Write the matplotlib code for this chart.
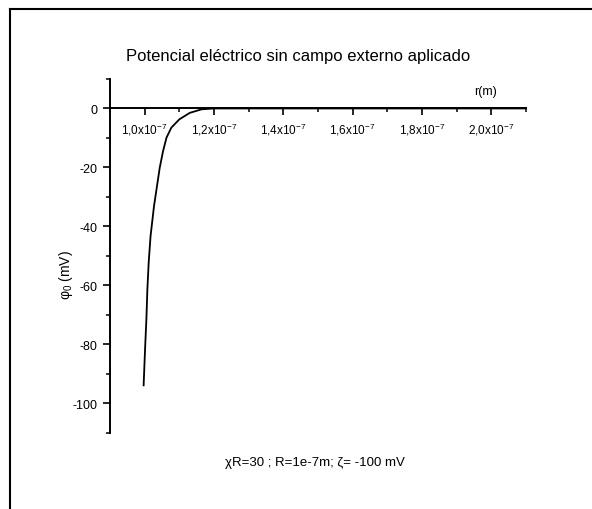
import matplotlib
matplotlib.use("Agg")
import matplotlib.pyplot as plt
from matplotlib.ticker import MultipleLocator, FixedLocator
from matplotlib.lines import Line2D

plt.rcParams["font.family"] = ["Liberation Sans", "DejaVu Sans"]
plt.rcParams["mathtext.fontset"] = "custom"
plt.rcParams["mathtext.rm"] = "Liberation Sans"
plt.rcParams["mathtext.it"] = "Liberation Sans:italic"
plt.rcParams["axes.unicode_minus"] = False

# curve: r in m, phi0 in mV
r_vals = [0.997e-7, 1.000e-7, 1.002e-7, 1.005e-7, 1.0078e-7, 1.0116e-7, 1.017e-7,
          1.027e-7, 1.036e-7, 1.0435e-7, 1.053e-7, 1.063e-7, 1.077e-7, 1.10e-7,
          1.13e-7, 1.164e-7, 1.20e-7, 1.40e-7, 1.80e-7, 2.10e-7]
phi_vals = [-94, -85, -79.4, -71.5, -61.4, -52.3, -43.3,
            -33.1, -26, -20.1, -14.5, -9.9, -6.5, -3.7,
            -1.5, -0.3, 0, 0, 0, 0]

x_ticks = [1.0e-7, 1.2e-7, 1.4e-7, 1.6e-7, 1.8e-7, 2.0e-7]
x_labels = ["1,0x10$^{\\mathrm{-7}}$", "1,2x10$^{\\mathrm{-7}}$", "1,4x10$^{\\mathrm{-7}}$",
            "1,6x10$^{\\mathrm{-7}}$", "1,8x10$^{\\mathrm{-7}}$", "2,0x10$^{\\mathrm{-7}}$"]
y_ticks = [0, -20, -40, -60, -80, -100]

fig = plt.figure(figsize=(5.92, 5.10), dpi=100)
ax = fig.add_axes([110 / 592, (510 - 433.5) / 510, 416 / 592, 353.5 / 510])

ax.plot(r_vals, phi_vals, color="black", lw=1.3)

ax.set_xlim(0.9e-7, 2.1e-7)
ax.set_ylim(-110, 10)

for s in ["top", "right"]:
    ax.spines[s].set_visible(False)
ax.spines["bottom"].set_position(("data", 0))
ax.spines["left"].set_linewidth(1.4)
ax.spines["bottom"].set_linewidth(1.4)

ax.xaxis.set_major_locator(FixedLocator(x_ticks))
ax.set_xticklabels(x_labels, fontsize=8.5)
ax.xaxis.set_minor_locator(MultipleLocator(0.1e-7))
ax.yaxis.set_major_locator(FixedLocator(y_ticks))
ax.set_yticklabels([str(v) for v in y_ticks], fontsize=9)
ax.yaxis.set_minor_locator(MultipleLocator(10))
ax.tick_params(which="major", direction="out", length=5, width=1.2, pad=4)
ax.tick_params(which="minor", direction="out", length=3, width=1.1)

ax.set_ylabel("φ$_{\\mathrm{0}}$ (mV)", fontsize=10)
ax.yaxis.set_label_coords(-0.084, 0.448)
ax.text(1.95e-7, 4, "r(m)", fontsize=9, ha="left", va="bottom")

fig.text(298 / 592, 1 - 57 / 510, "Potencial eléctrico sin campo externo aplicado",
         fontsize=12, ha="center", va="center")
fig.text(315 / 592, 1 - 463 / 510, "χR=30 ; R=1e-7m; ζ= -100 mV",
         fontsize=9.5, ha="center", va="center")

# outer frame (left and top edges visible)
fig.add_artist(Line2D([10 / 592, 10 / 592], [0, 1 - 10 / 510], color="black", lw=1.5,
                      transform=fig.transFigure))
fig.add_artist(Line2D([10 / 592, 1], [1 - 10 / 510, 1 - 10 / 510], color="black", lw=1.5,
                      transform=fig.transFigure))

fig.savefig("out.png", dpi=100)
